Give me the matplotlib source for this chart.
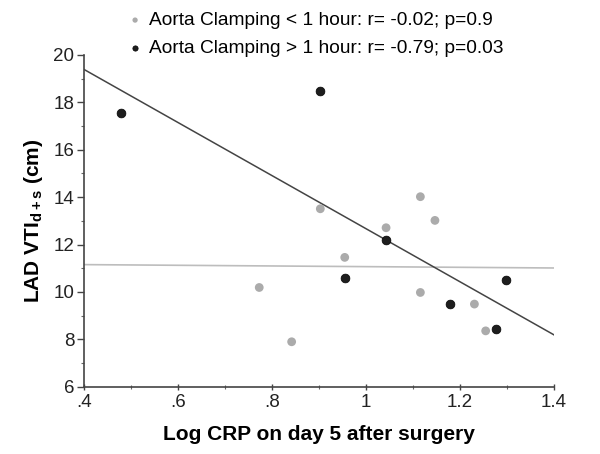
import numpy as np
import matplotlib
matplotlib.use('Agg')
import matplotlib.pyplot as plt
from matplotlib.ticker import MultipleLocator

plt.rcParams['font.family'] = ['Liberation Sans', 'DejaVu Sans']
plt.rcParams['mathtext.fontset'] = 'custom'
plt.rcParams['mathtext.rm'] = 'Liberation Sans'
plt.rcParams['mathtext.bf'] = 'Liberation Sans:bold'

gray = '#ababab'
dark = '#1e1e1e'

# Aorta clamping < 1 hour
short_x = [0.773, 0.842, 0.903, 0.955, 1.043, 1.116, 1.147, 1.116, 1.231, 1.255]
short_y = [10.19, 7.90, 13.51, 11.46, 12.71, 14.02, 13.02, 9.98, 9.49, 8.36]

# Aorta clamping > 1 hour
long_x = [0.478, 0.903, 0.955, 1.043, 1.178, 1.278, 1.299]
long_y = [17.53, 18.49, 10.57, 12.19, 9.49, 8.45, 10.49]

labels = ['Aorta Clamping < 1 hour: r= -0.02; p=0.9',
          'Aorta Clamping > 1 hour: r= -0.79; p=0.03']

xticks = [0.4, 0.6, 0.8, 1.0, 1.2, 1.4]
xticklabels = ['.4', '.6', '.8', '1', '1.2', '1.4']
yticks = [6, 8, 10, 12, 14, 16, 18, 20]

fig = plt.figure(figsize=(6, 4.54), dpi=100)
ax = fig.add_axes([0.14, 0.148, 0.783, 0.731])

# regression lines over the full x range
xs = np.array([0.4, 1.4])
k, b = np.polyfit(short_x, short_y, 1)
ax.plot(xs, k * xs + b, color='#bdbdbd', lw=1.2, zorder=2)
k, b = np.polyfit(long_x, long_y, 1)
ax.plot(xs, k * xs + b, color='#444444', lw=1.1, zorder=2)

h1 = ax.scatter(short_x, short_y, s=40, color=gray, edgecolors='none', zorder=3)
h2 = ax.scatter(long_x, long_y, s=40, color=dark, edgecolors='#000000', linewidths=0.5, zorder=4)

ax.set_xlim(0.4, 1.4)
ax.set_ylim(6, 20)
ax.set_xticks(xticks)
ax.set_xticklabels(xticklabels)
ax.set_yticks(yticks)
ax.xaxis.set_minor_locator(MultipleLocator(0.1))
ax.yaxis.set_minor_locator(MultipleLocator(1))

for s in ['top', 'right']:
    ax.spines[s].set_visible(False)
for s in ['left', 'bottom']:
    ax.spines[s].set_color('#444444')
    ax.spines[s].set_linewidth(1.2)

ax.tick_params(axis='y', which='major', direction='out', length=5, width=1, color='#444444',
               labelsize=13.5, pad=2, labelcolor='#222222')
ax.tick_params(axis='y', which='minor', direction='out', length=2.5, width=0.8, color='#666666')
ax.tick_params(axis='x', which='major', direction='inout', length=5, width=1, color='#444444',
               labelsize=13.5, pad=3, labelcolor='#222222')
ax.tick_params(axis='x', which='minor', direction='inout', length=3, width=0.8, color='#666666')

ax.set_xlabel('Log CRP on day 5 after surgery', fontsize=15, fontweight='bold', labelpad=10)
ax.set_ylabel(r'LAD VTI$_{\mathbf{d+s}}$ (cm)', fontsize=15, fontweight='bold', labelpad=6)

fig.legend([h1, h2], labels, loc='upper left', bbox_to_anchor=(0.19, 1.008),
           frameon=False, fontsize=13.8, markerscale=0.6, handlelength=0.6,
           handletextpad=0.45, labelspacing=0.55, borderpad=0.3)

fig.savefig('out.png', dpi=100)
